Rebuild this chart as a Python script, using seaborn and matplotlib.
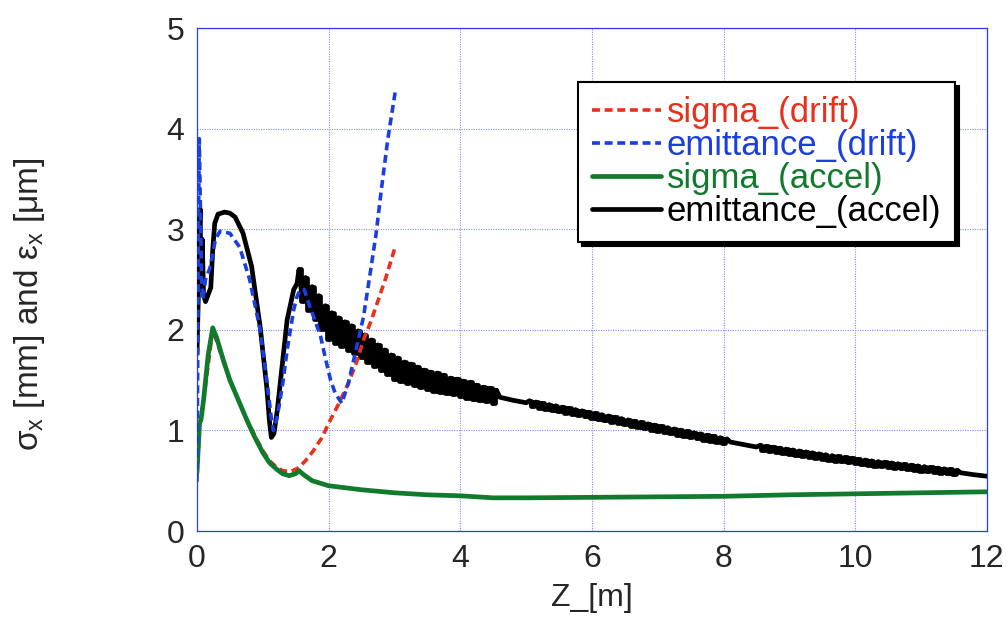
import numpy as np
import pandas as pd
import matplotlib
matplotlib.use("Agg")
import matplotlib.pyplot as plt
import seaborn as sns

# ---------------- data ----------------
sigma_drift_z = [0.0, 0.04, 0.06, 0.24, 0.5, 0.76, 0.9, 1.0, 1.1, 1.2, 1.3, 1.42, 1.55, 1.65,
                 1.77, 1.9, 2.0, 2.15, 2.3, 2.42, 2.53, 2.64, 2.74, 2.87, 3.0]
sigma_drift_y = [0.55, 1.08, 1.1, 2.0, 1.5, 1.1, 0.92, 0.8, 0.7, 0.64, 0.6, 0.59, 0.63, 0.7,
                 0.8, 0.93, 1.07, 1.26, 1.47, 1.67, 1.9, 2.08, 2.27, 2.52, 2.8]

emit_drift_z = [0.0, 0.01, 0.02, 0.035, 0.05, 0.07, 0.09, 0.13, 0.2, 0.28, 0.35, 0.5, 0.65,
                0.8, 0.96, 1.06, 1.13, 1.16, 1.19, 1.25, 1.31, 1.37, 1.42, 1.47, 1.52, 1.57,
                1.63, 1.72, 1.8, 1.88, 1.95, 2.03, 2.1, 2.2, 2.3, 2.44, 2.53, 2.64, 2.72,
                2.8, 2.9, 3.02]
emit_drift_y = [0.49, 1.5, 2.8, 3.9, 3.3, 2.5, 2.3, 2.5, 2.62, 2.9, 2.98, 2.96, 2.82,
                2.5, 2.0, 1.5, 1.12, 1.0, 1.05, 1.25, 1.5, 1.8, 2.0, 2.2, 2.33, 2.4,
                2.4, 2.22, 2.08, 1.93, 1.72, 1.5, 1.37, 1.27, 1.47, 1.87, 2.13, 2.6, 2.95,
                3.39, 3.9, 4.4]

sigma_accel_z = [0.0, 0.04, 0.06, 0.1, 0.17, 0.24, 0.3, 0.4, 0.5, 0.63, 0.76, 0.88, 1.0,
                 1.1, 1.2, 1.3, 1.4, 1.5, 1.55, 1.62, 1.75, 2.0, 2.5, 3.0, 3.5, 4.0, 4.5,
                 5.0, 6.0, 7.0, 8.0, 9.0, 10.0, 11.0, 12.0]
sigma_accel_y = [0.58, 1.08, 1.1, 1.3, 1.75, 2.02, 1.92, 1.7, 1.5, 1.3, 1.1, 0.93, 0.78,
                 0.68, 0.62, 0.57, 0.55, 0.57, 0.6, 0.56, 0.5, 0.45, 0.41, 0.38, 0.36, 0.35,
                 0.33, 0.33, 0.335, 0.34, 0.345, 0.36, 0.37, 0.38, 0.39]

# emittance (accel): smooth start, then three oscillating stretches sampled every 0.05 m
emit_accel_early_z = [0.0, 0.02, 0.03, 0.05, 0.06, 0.08, 0.1, 0.13, 0.17, 0.21, 0.24, 0.27,
                      0.32, 0.42, 0.5, 0.58, 0.7, 0.83, 0.96, 1.06, 1.1, 1.13, 1.17, 1.22,
                      1.27, 1.37, 1.47, 1.52]
emit_accel_early_y = [1.77, 2.3, 2.9, 3.2, 2.4, 2.9, 2.35, 2.28, 2.35, 2.42, 2.8, 3.06,
                      3.15, 3.17, 3.16, 3.12, 2.96, 2.63, 2.03, 1.43, 1.1, 0.93, 0.97, 1.2,
                      1.5, 2.1, 2.4, 2.46]
band1_start = 1.55
band1_y = [2.60, 2.29, 2.52, 2.20, 2.43, 2.11, 2.34, 2.01, 2.24, 1.91, 2.17, 1.87, 2.12,
           1.84, 2.08, 1.80, 2.04, 1.77, 1.99, 1.73, 1.95, 1.68, 1.90, 1.64, 1.85, 1.60,
           1.80, 1.56, 1.75, 1.51, 1.72, 1.49, 1.68, 1.47, 1.66, 1.45, 1.63, 1.43, 1.60,
           1.41, 1.58, 1.39, 1.57, 1.38, 1.55, 1.37, 1.52, 1.36, 1.51, 1.34, 1.49, 1.32,
           1.48, 1.31, 1.45, 1.30, 1.43, 1.29, 1.42, 1.27, 1.40]
mid1_z = [4.6, 4.8, 5.0]
mid1_y = [1.33, 1.30, 1.275]
band2_start = 5.05
band2_y = [1.295, 1.239, 1.282, 1.226, 1.270, 1.214, 1.257, 1.201, 1.245, 1.189, 1.232,
           1.176, 1.220, 1.164, 1.207, 1.151, 1.195, 1.139, 1.182, 1.126, 1.170, 1.113,
           1.157, 1.100, 1.144, 1.087, 1.131, 1.074, 1.118, 1.061, 1.105, 1.048, 1.092,
           1.035, 1.079, 1.022, 1.066, 1.009, 1.053, 0.996, 1.040, 0.984, 1.028, 0.971,
           1.015, 0.959, 1.003, 0.947, 0.990, 0.934, 0.978, 0.922, 0.966, 0.909, 0.953,
           0.897, 0.941, 0.885, 0.928, 0.872, 0.916]
mid2_z = [8.1, 8.3, 8.5]
mid2_y = [0.885, 0.86, 0.835]
band3_start = 8.55
band3_y = [0.852, 0.803, 0.843, 0.794, 0.833, 0.785, 0.824, 0.775, 0.815, 0.766, 0.806,
           0.757, 0.796, 0.748, 0.787, 0.738, 0.778, 0.729, 0.768, 0.720, 0.759, 0.711,
           0.750, 0.701, 0.741, 0.692, 0.731, 0.683, 0.722, 0.673, 0.713, 0.665, 0.706,
           0.658, 0.698, 0.651, 0.691, 0.644, 0.684, 0.636, 0.677, 0.629, 0.670, 0.622,
           0.662, 0.615, 0.655, 0.608, 0.648, 0.600, 0.641, 0.593, 0.634, 0.586, 0.626,
           0.579, 0.619, 0.572, 0.612, 0.564, 0.605]
tail_z = [11.6, 11.8, 12.0]
tail_y = [0.579, 0.56, 0.545]
sample_step = 0.05

x_ticks = [0, 2, 4, 6, 8, 10, 12]
y_ticks = [0, 1, 2, 3, 4, 5]
labels = ["sigma_(drift)", "emittance_(drift)", "sigma_(accel)", "emittance_(accel)"]
colors = ["#e8301c", "#1a3ee0", "#117a2c", "#000000"]

# ---------------- assemble ----------------
def band_z(start, vals):
    return list(np.round(start + sample_step * np.arange(len(vals)), 3))

bands = [(band_z(band1_start, band1_y), band1_y),
         (band_z(band2_start, band2_y), band2_y),
         (band_z(band3_start, band3_y), band3_y)]

emit_accel_z = (emit_accel_early_z + bands[0][0] + mid1_z + bands[1][0] + mid2_z +
                bands[2][0] + tail_z)
emit_accel_y = (emit_accel_early_y + band1_y + mid1_y + band2_y + mid2_y + band3_y + tail_y)

df_sd = pd.DataFrame({"z": sigma_drift_z, "v": sigma_drift_y})
df_ed = pd.DataFrame({"z": emit_drift_z, "v": emit_drift_y})
df_sa = pd.DataFrame({"z": sigma_accel_z, "v": sigma_accel_y})
df_ea = pd.DataFrame({"z": emit_accel_z, "v": emit_accel_y})

# ---------------- plot ----------------
sns.set_style("white")
plt.rcParams["font.family"] = ["Liberation Sans", "DejaVu Sans"]
plt.rcParams["mathtext.fontset"] = "custom"
plt.rcParams["mathtext.rm"] = "Liberation Sans"

fig = plt.figure(figsize=(10.08, 6.2), dpi=100)
ax = fig.add_axes([0.1954, 0.1435, 0.7837, 0.8113])

sns.lineplot(data=df_ea, x="z", y="v", sort=False, estimator=None, ax=ax,
             color=colors[3], lw=3.4, label=labels[3], zorder=3)
# the oscillating stretches are drawn once more as steps so the band looks solid
for bz, by in bands:
    sns.lineplot(x=bz, y=by, sort=False, estimator=None, ax=ax, color=colors[3],
                 lw=3.4, drawstyle="steps-mid", zorder=3, legend=False)
sns.lineplot(data=df_sd, x="z", y="v", sort=False, estimator=None, ax=ax,
             color=colors[0], lw=2.6, label=labels[0], zorder=4)
sns.lineplot(data=df_sa, x="z", y="v", sort=False, estimator=None, ax=ax,
             color=colors[2], lw=3.4, label=labels[2], zorder=5)
sns.lineplot(data=df_ed, x="z", y="v", sort=False, estimator=None, ax=ax,
             color=colors[1], lw=2.6, label=labels[1], zorder=6)
for ln in ax.get_lines():
    if ln.get_color() in (colors[0], colors[1]):
        ln.set_dashes((2.2, 1.3))

ax.set_xlim(0, 12)
ax.set_ylim(0, 5)
ax.set_xticks(x_ticks)
ax.set_yticks(y_ticks)
ax.tick_params(axis="both", length=0, labelsize=23, pad=9)
ax.grid(True, color="#7f8cf0", linestyle=(0, (1, 1.2)), linewidth=0.8)
for sp in ax.spines.values():
    sp.set_color("#2a3ef0")
    sp.set_linewidth(0.9)

ax.set_xlabel("Z_[m]", fontsize=23, labelpad=7)
ax.set_ylabel(r"σ$_\mathregular{x}$ [mm] and ε$_\mathregular{x}$ [μm]", fontsize=24)
ax.yaxis.set_label_coords(-0.19, 0.45)

handles, labs = ax.get_legend_handles_labels()
order = [labs.index(l) for l in labels]
leg = ax.legend([handles[i] for i in order], [labs[i] for i in order],
                loc="upper right", bbox_to_anchor=(0.9595, 0.893), borderaxespad=0,
                fontsize=25, frameon=True, fancybox=False, framealpha=1,
                edgecolor="black", handlelength=2.0, handletextpad=0.15,
                labelspacing=0.0, borderpad=0.4,
                shadow={"ox": 3, "oy": -3, "facecolor": "black",
                        "edgecolor": "black", "alpha": 1})
leg.get_frame().set_linewidth(1.5)
for txt, c in zip(leg.get_texts(), colors):
    txt.set_color(c)

fig.savefig("out.png", dpi=100)
